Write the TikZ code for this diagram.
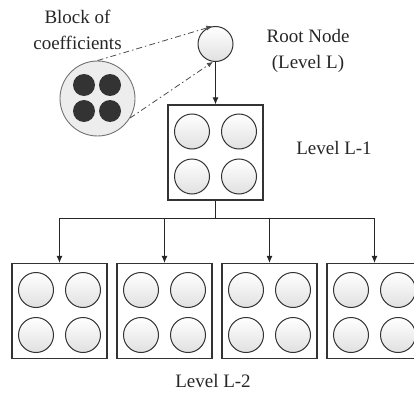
\documentclass[tikz,border=0pt]{standalone}
\usepackage{fontspec}
\setmainfont{Liberation Serif}
\usetikzlibrary{arrows.meta}

\begin{document}
\begin{tikzpicture}[x=1pt, y=-1pt]
%define
\tikzstyle{coef} = [circle, minimum size=35pt, inner sep=0pt, draw=black!80, line width=1pt, top color=white, bottom color=black!12]
\tikzstyle{zoomed} = [circle, minimum size=75pt, inner sep=0pt, draw=black!55, fill=black!7, line width=0.9pt]
\tikzstyle{dot} = [circle, minimum size=22pt, inner sep=0pt, fill=black!80]
\tikzstyle{block} = [rectangle, minimum size=95pt, inner sep=0pt, draw=black!80, line width=1.1pt]
\tikzstyle{txt} = [text centered, align=center, text=black!85, font=\fontsize{19}{26}\selectfont]
\tikzstyle{arrow} = [-{Latex[length=7pt,width=6pt]}, draw=black!85, line width=1pt]
\tikzstyle{arrowx} = [-{Latex[length=6pt,width=5pt]}, draw=black!70, dash pattern=on 6pt off 3pt on 1.5pt off 3pt, line width=0.8pt]

%frame
\clip (0,0) rectangle (414,393);

%root
\node[coef](root) at (215.5,44){};
\node[zoomed](zoom) at (97.5,98.5){};
\node[dot](d1) at (84,85){};
\node[dot](d2) at (110,85){};
\node[dot](d3) at (84,111){};
\node[dot](d4) at (110,111){};

%level L-1
\node[block](l1) at (215.5,152.5){};
\node[coef, xshift=-23.5pt, yshift=21pt](l1a) at (l1){};
\node[coef, xshift=23.5pt, yshift=21pt](l1b) at (l1){};
\node[coef, xshift=-23.5pt, yshift=-24pt](l1c) at (l1){};
\node[coef, xshift=23.5pt, yshift=-24pt](l1d) at (l1){};

%level L-2
\node[block](l2a) at (59.5,311){};
\node[coef, xshift=-23.5pt, yshift=21pt](l2a1) at (l2a){};
\node[coef, xshift=23.5pt, yshift=21pt](l2a2) at (l2a){};
\node[coef, xshift=-23.5pt, yshift=-24pt](l2a3) at (l2a){};
\node[coef, xshift=23.5pt, yshift=-24pt](l2a4) at (l2a){};
\node[block](l2b) at (164.5,311){};
\node[coef, xshift=-23.5pt, yshift=21pt](l2b1) at (l2b){};
\node[coef, xshift=23.5pt, yshift=21pt](l2b2) at (l2b){};
\node[coef, xshift=-23.5pt, yshift=-24pt](l2b3) at (l2b){};
\node[coef, xshift=23.5pt, yshift=-24pt](l2b4) at (l2b){};
\node[block](l2c) at (269.5,311){};
\node[coef, xshift=-23.5pt, yshift=21pt](l2c1) at (l2c){};
\node[coef, xshift=23.5pt, yshift=21pt](l2c2) at (l2c){};
\node[coef, xshift=-23.5pt, yshift=-24pt](l2c3) at (l2c){};
\node[coef, xshift=23.5pt, yshift=-24pt](l2c4) at (l2c){};
\node[block](l2d) at (374.5,311){};
\node[coef, xshift=-23.5pt, yshift=21pt](l2d1) at (l2d){};
\node[coef, xshift=23.5pt, yshift=21pt](l2d2) at (l2d){};
\node[coef, xshift=-23.5pt, yshift=-24pt](l2d3) at (l2d){};
\node[coef, xshift=23.5pt, yshift=-24pt](l2d4) at (l2d){};

%text
\node[txt](blocklabel) at (77.5,30){Block of\\coefficients};
\node[txt](rootlabel) at (308,51){Root Node\\(Level L)};
\node[txt](l1label) at (334,148){Level L-1};
\node[txt](l2label) at (213,381){Level L-2};

%line
\coordinate (bus) at (215.5,218);
\draw[arrow](root)--(l1);
\draw[line width=1pt, draw=black!85](l1)--(bus);
\draw[arrow](bus)-|(l2a);
\draw[arrow](bus)-|(l2b);
\draw[arrow](bus)-|(l2c);
\draw[arrow](bus)-|(l2d);
\draw[arrowx](zoom.north)--(root.100);
\draw[arrowx](zoom.-31)--(root.262);

\end{tikzpicture}
\end{document}
